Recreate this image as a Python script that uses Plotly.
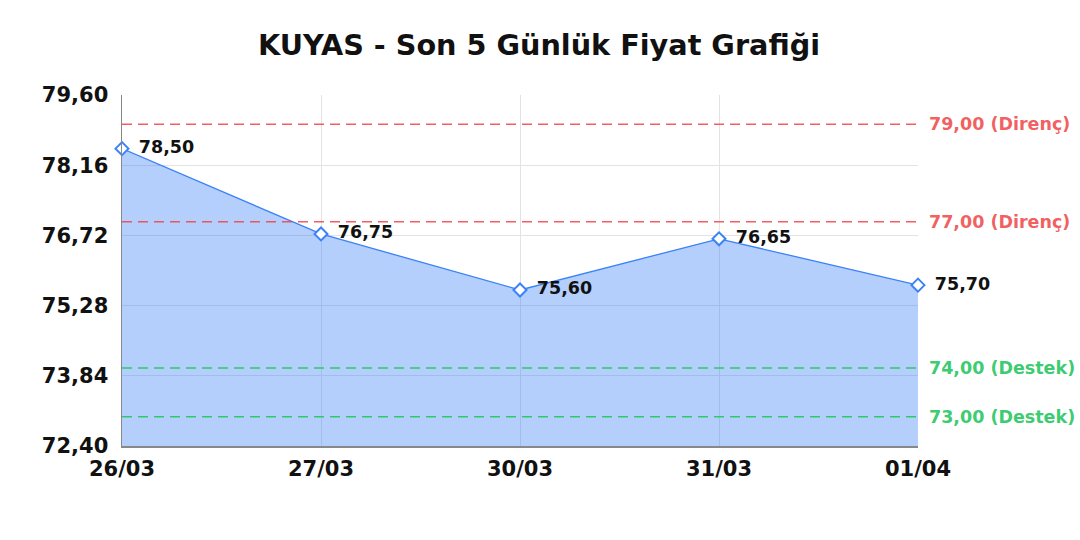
import plotly.graph_objects as go

title = "KUYAS - Son 5 Günlük Fiyat Grafiği"
dates = ["26/03", "27/03", "30/03", "31/03", "01/04"]
prices = [78.50, 76.75, 75.60, 76.65, 75.70]
y_ticks = [72.40, 73.84, 75.28, 76.72, 78.16, 79.60]
resistance = [79.00, 77.00]
support = [74.00, 73.00]

def fmt(v):
    return f"{v:.2f}".replace(".", ",")

FONT = "DejaVu Sans"
BLUE = "#3b82f6"
RED = "rgba(239,68,68,0.85)"
GREEN = "rgba(34,197,94,0.9)"

W, H = 1080, 540

fig = go.Figure()
fig.add_trace(go.Scatter(
    x=dates, y=prices,
    mode="lines+markers+text",
    fill="tozeroy",
    fillcolor="rgba(59,130,246,0.38)",
    line=dict(color=BLUE, width=1.3),
    marker=dict(symbol="diamond", size=10, color="white", line=dict(width=2, color=BLUE)),
    text=[" \u2009" + fmt(v) for v in prices],
    textposition="middle right",
    textfont=dict(family=FONT, size=17.5, color="#111111", weight="bold"),
    cliponaxis=False,
    hoverinfo="skip",
    showlegend=False,
))

shapes = []
annotations = []
for lvl in resistance:
    shapes.append(dict(type="line", xref="paper", x0=0, x1=1, yref="y", y0=lvl, y1=lvl,
                       line=dict(color=RED, width=1.3, dash="10px,6px")))
    annotations.append(dict(xref="paper", x=1, xanchor="left", xshift=9, yref="y", y=lvl,
                            text=f"{fmt(lvl)} (Direnç)", showarrow=False,
                            font=dict(family=FONT, size=17.5, color=RED, weight="bold")))
for lvl in support:
    shapes.append(dict(type="line", xref="paper", x0=0, x1=1, yref="y", y0=lvl, y1=lvl,
                       line=dict(color=GREEN, width=1.3, dash="10px,6px")))
    annotations.append(dict(xref="paper", x=1, xanchor="left", xshift=9, yref="y", y=lvl,
                            text=f"{fmt(lvl)} (Destek)", showarrow=False,
                            font=dict(family=FONT, size=17.5, color=GREEN, weight="bold")))

fig.update_layout(
    width=W, height=H,
    paper_bgcolor="white", plot_bgcolor="white",
    margin=dict(l=122, r=W - 918, t=95, b=H - 446),
    title=dict(text=title, x=539 / W, xanchor="center", y=1 - 45 / H, yanchor="middle",
               font=dict(family=FONT, size=28.7, color="#111111", weight="bold")),
    shapes=shapes,
    annotations=annotations,
    hovermode=False,
    xaxis=dict(
        type="category", range=[0, 4],
        showgrid=True, gridcolor="#e3e3e3", gridwidth=1,
        showline=True, linecolor="#888888", linewidth=1.5,
        ticks="", ticklabelstandoff=3,
        tickfont=dict(family=FONT, size=21, color="#111111", weight="bold"),
        zeroline=False, fixedrange=True,
    ),
    yaxis=dict(
        range=[72.40, 79.60],
        tickvals=y_ticks, ticktext=[fmt(v) for v in y_ticks],
        showgrid=True, gridcolor="#e3e3e3", gridwidth=1,
        showline=True, linecolor="#888888", linewidth=1.5,
        ticks="", ticklabelstandoff=8,
        tickfont=dict(family=FONT, size=21, color="#111111", weight="bold"),
        zeroline=False, fixedrange=True,
    ),
)

fig.write_html(
    "out.html",
    config={"displayModeBar": False, "staticPlot": True},
    post_script="document.body.style.margin='0';document.body.style.overflow='hidden';",
)
